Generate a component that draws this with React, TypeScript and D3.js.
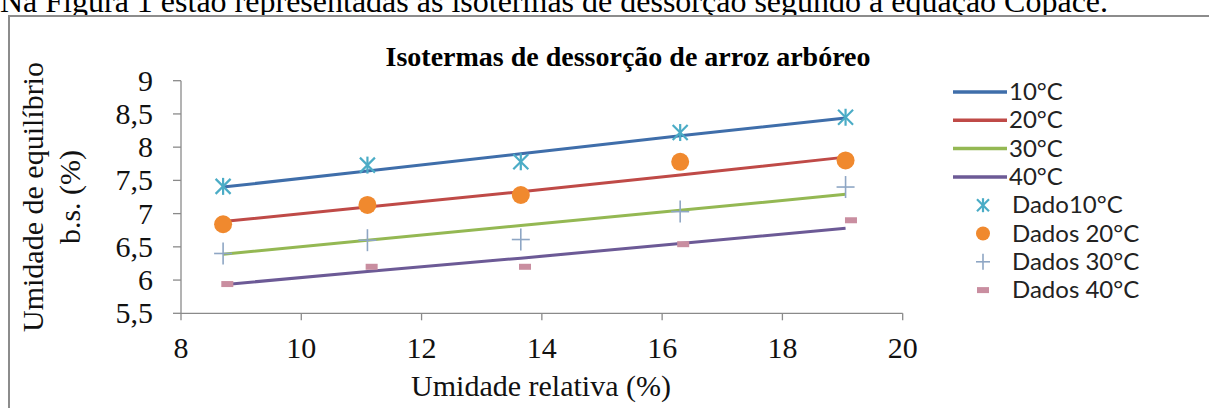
import React from 'react';
import * as d3 from 'd3';

// umidade relativa (%) where the fitted lines and data were taken
const umidadeRelativa = [8.7, 11.1, 13.65, 16.3, 19.05];
const umidadeRelativa40 = [8.77, 11.17, 13.72, 16.35, 19.14];

// fitted isotherms (Copace)
const fit10 = [7.4, 7.64, 7.9, 8.17, 8.44];
const fit20 = [6.88, 7.1, 7.33, 7.58, 7.85];
const fit30 = [6.39, 6.6, 6.82, 7.05, 7.29];
const fit40 = [5.93, 6.13, 6.33, 6.55, 6.78];

// measured data
const dados10 = [7.41, 7.73, 7.78, 8.22, 8.45];
const dados20 = [6.84, 7.13, 7.28, 7.78, 7.8];
const dados30 = [6.4, 6.6, 6.61, 7.03, 7.4];
const dados40 = [5.94, 6.2, 6.2, 6.54, 6.9];

const xTicks = [8, 10, 12, 14, 16, 18, 20];
const yTicks = [5.5, 6, 6.5, 7, 7.5, 8, 8.5, 9];

const lineLabels = ['10°C', '20°C', '30°C', '40°C'];
const lineColors = ['#3f6eaa', '#bf4a47', '#94b853', '#6c5a96'];
const dataLabels = ['Dado10°C', 'Dados 20°C', 'Dados 30°C', 'Dados 40°C'];

const W = 1209;
const H = 408;
const serif = '"Liberation Serif", "Times New Roman", serif';
const sans = 'Lato, "Open Sans", sans-serif';

const x = d3.scaleLinear().domain([8, 20]).range([181, 902.7]);
const y = d3.scaleLinear().domain([5.5, 9]).range([313.3, 80.7]);

const fmt = (v: number) => String(v).replace('.', ',');

const Star = ({ cx, cy, s = 7.5 }: { cx: number; cy: number; s?: number }) => (
  <g stroke="#4bacc6" strokeWidth={2.2}>
    <line x1={cx - s} y1={cy - s} x2={cx + s} y2={cy + s} />
    <line x1={cx - s} y1={cy + s} x2={cx + s} y2={cy - s} />
    <line x1={cx} y1={cy - s - 1} x2={cx} y2={cy + s + 1} />
  </g>
);
const Plus = ({ cx, cy, w = 9, h = 11 }: { cx: number; cy: number; w?: number; h?: number }) => (
  <g stroke="#8ea6c4" strokeWidth={1.6}>
    <line x1={cx - w} y1={cy} x2={cx + w} y2={cy} />
    <line x1={cx} y1={cy - h} x2={cx} y2={cy + h} />
  </g>
);
const Dash = ({ cx, cy }: { cx: number; cy: number }) => (
  <rect x={cx - 6} y={cy - 3} width={12} height={6} fill="#c98ea0" />
);

export default function App() {
  const fits = [fit10, fit20, fit30, fit40];
  const line = d3.line<number>().x((_, i) => x(umidadeRelativa[i])).y((d) => y(d));
  const legendY = (i: number) => 92 + i * 28.3;

  return (
    <svg width={W} height={H} style={{ position: 'absolute', left: 0, top: 0, background: '#fff' }}>
      <text x={0} y={12} fontFamily={serif} fontSize={32} fill="#000">
        Na Figura 1 estão representadas as isotermas de dessorção segundo a equação Copace.
      </text>
      <rect x={9} y={16} width={W + 20} height={H} fill="#fff" stroke="#8c8c8c" strokeWidth={2} />

      <text x={628} y={66} textAnchor="middle" fontFamily={serif} fontWeight="bold" fontSize={28}>
        Isotermas de dessorção de arroz arbóreo
      </text>

      {/* axes */}
      <line x1={x(8)} y1={y(9)} x2={x(8)} y2={y(5.5)} stroke="#8a8a8a" strokeWidth={1.3} />
      <line x1={x(8)} y1={y(5.5)} x2={x(20)} y2={y(5.5)} stroke="#8a8a8a" strokeWidth={1.3} />
      {yTicks.map((t) => (
        <g key={'y' + t}>
          <line x1={x(8) - 8} x2={x(8)} y1={y(t)} y2={y(t)} stroke="#8a8a8a" strokeWidth={1.3} />
          <text x={153} y={y(t) + 10} textAnchor="end" fontFamily={serif} fontSize={30} fill="#111">
            {fmt(t)}
          </text>
        </g>
      ))}
      {xTicks.map((t) => (
        <g key={'x' + t}>
          <line x1={x(t)} x2={x(t)} y1={y(5.5)} y2={y(5.5) + 7} stroke="#8a8a8a" strokeWidth={1.3} />
          <text x={x(t)} y={358} textAnchor="middle" fontFamily={serif} fontSize={30} fill="#111">
            {t}
          </text>
        </g>
      ))}
      <text x={541} y={396} textAnchor="middle" fontFamily={serif} fontSize={30} fill="#111">
        Umidade relativa (%)
      </text>
      <g transform="translate(43,197) rotate(-90)">
        <text x={0} y={0} textAnchor="middle" fontFamily={serif} fontSize={30} fill="#111">
          Umidade de equilíbrio
        </text>
      </g>
      <g transform="translate(80,197) rotate(-90)">
        <text x={0} y={0} textAnchor="middle" fontFamily={serif} fontSize={30} fill="#111">
          b.s. (%)
        </text>
      </g>

      {/* fitted lines */}
      {fits.map((f, i) => (
        <path key={'f' + i} d={line(f) || ''} fill="none" stroke={lineColors[i]} strokeWidth={3} />
      ))}

      {/* data markers */}
      {dados10.map((v, i) => (
        <Star key={'d10' + i} cx={x(umidadeRelativa[i])} cy={y(v)} />
      ))}
      {dados20.map((v, i) => (
        <circle key={'d20' + i} cx={x(umidadeRelativa[i])} cy={y(v)} r={9} fill="#f0892e" />
      ))}
      {dados30.map((v, i) => (
        <Plus key={'d30' + i} cx={x(umidadeRelativa[i])} cy={y(v)} />
      ))}
      {dados40.map((v, i) => (
        <Dash key={'d40' + i} cx={x(umidadeRelativa40[i])} cy={y(v)} />
      ))}

      {/* legend */}
      {lineLabels.map((l, i) => (
        <g key={'ll' + i}>
          <line x1={953} x2={1007} y1={legendY(i)} y2={legendY(i)} stroke={lineColors[i]} strokeWidth={3.5} />
          <text x={1009} y={legendY(i) + 8} fontFamily={sans} fontSize={24} fill="#222">
            {l}
          </text>
        </g>
      ))}
      {dataLabels.map((l, i) => {
        const cy = legendY(i + 4);
        return (
          <g key={'dl' + i}>
            {i === 0 && <Star cx={983} cy={cy} s={6} />}
            {i === 1 && <circle cx={983} cy={cy} r={7} fill="#f0892e" />}
            {i === 2 && <Plus cx={983} cy={cy} w={7} h={8} />}
            {i === 3 && <Dash cx={983} cy={cy} />}
            <text x={1012} y={cy + 8} fontFamily={sans} fontSize={24} fill="#222">
              {l}
            </text>
          </g>
        );
      })}
    </svg>
  );
}
